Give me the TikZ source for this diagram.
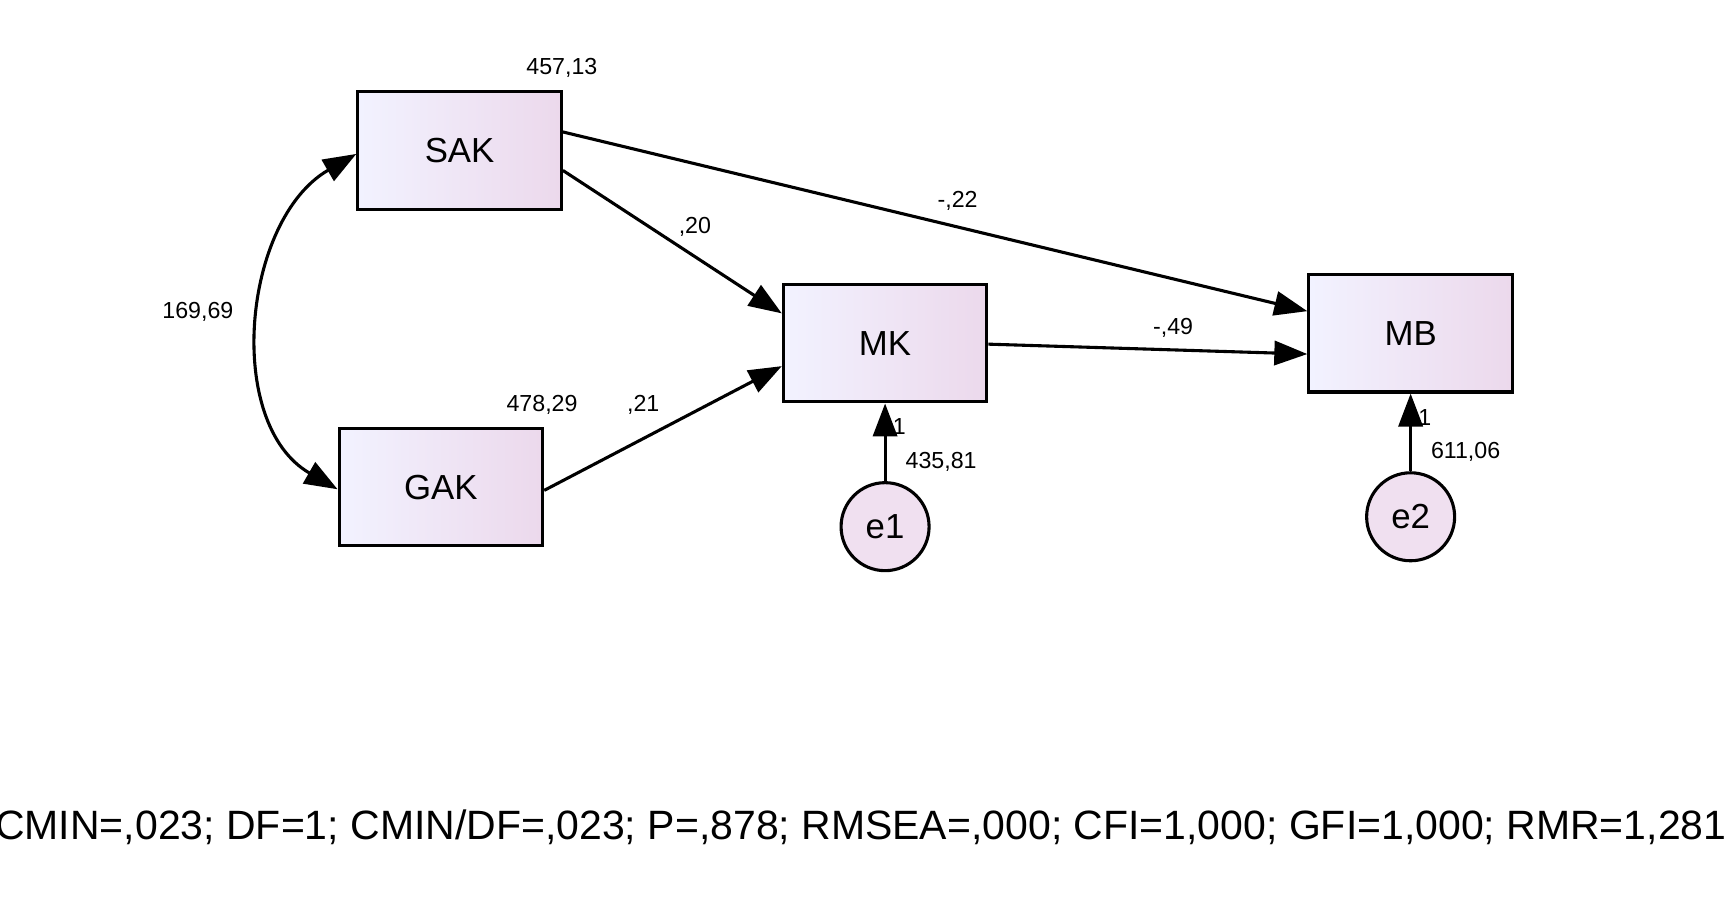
\documentclass[tikz,border=0pt]{standalone}
\usepackage{fontspec}
\setmainfont{Liberation Sans}
\usetikzlibrary{arrows.meta}
\begin{document}
\begin{tikzpicture}[x=0.01cm,y=-0.01cm,
		obs/.style={draw,thick,minimum width=1.85cm,minimum height=1.07cm,left color=blue!5!white,right color=violet!15!white,font=\fontsize{9}{9}\selectfont},
		err/.style={circle,draw,thick,minimum size=0.8cm,inner sep=0pt,fill=violet!12!white,font=\fontsize{9}{9}\selectfont},
		path/.style={thick,-{Triangle[length=3mm,width=2.2mm]}},
		est/.style={font=\fontsize{6}{6}\selectfont}
		]
	\useasboundingbox (0,0) rectangle (1568,829);
	% variables
	\node [obs] (sak) at (418,137) {SAK};
	\node [obs] (gak) at (401,443) {GAK};
	\node [obs] (mk) at (805,312) {MK};
	\node [obs] (mb) at (1283,303) {MB};
	\node [err] (e1) at (805,479) {e1};
	\node [err] (e2) at (1283,470) {e2};
	% paths
	\draw [path] (sak.east |- 0,120) -- (mb.west |- 0,283);
	\draw [path] (sak.east |- 0,155) -- (mk.west |- 0,285);
	\draw [path] (gak.east |- 0,446) -- (mk.west |- 0,333);
	\draw [path] (mk.east |- 0,313) -- (mb.west |- 0,322);
	\draw [path] (e1) -- (mk);
	\draw [path] (e2) -- (mb);
	\draw [thick,{Triangle[length=3mm,width=2.2mm]}-{Triangle[length=3mm,width=2.2mm]}] (sak.west |- 0,140) to[out=210,in=150] (gak.west |- 0,445);
	% estimates
	\node [est] (v1) at (511,62) {457,13};
	\node [est] (v2) at (493,368) {478,29};
	\node [est] (c1) at (180,284) {169,69};
	\node [est] (b1) at (632,206) {,20};
	\node [est] (b2) at (871,183) {-,22};
	\node [est] (b3) at (585,368) {,21};
	\node [est] (b4) at (1067,298) {-,49};
	\node [est] (w1) at (818,388) {1};
	\node [est] (v3) at (856,420) {435,81};
	\node [est] (w2) at (1296,380) {1};
	\node [est] (v4) at (1333,411) {611,06};
	\node [font=\fontsize{10.6}{11}\selectfont] (fit) at (783,752) {CMIN=,023; DF=1; CMIN/DF=,023; P=,878; RMSEA=,000; CFI=1,000; GFI=1,000; RMR=1,281};
\end{tikzpicture}
\end{document}
